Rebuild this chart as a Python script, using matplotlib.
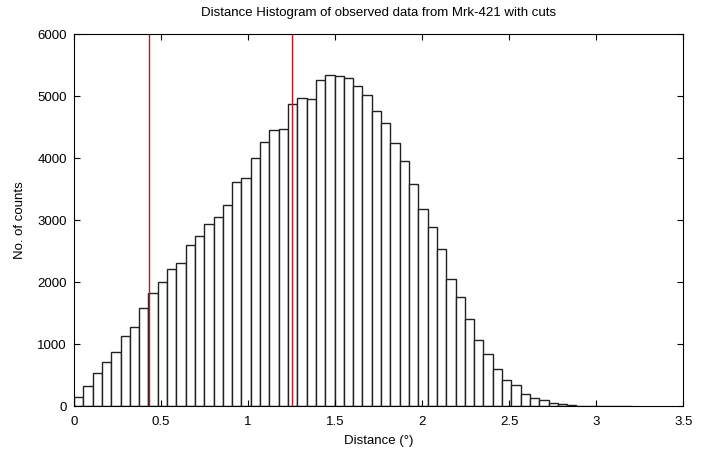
import matplotlib
matplotlib.use("Agg")
import matplotlib.pyplot as plt
import numpy as np

plt.rcParams['font.family'] = ['Liberation Sans', 'DejaVu Sans']

# Histogram counts (60 bins from 0 to ~3.207 deg)
bin_lo, bin_hi, n_bins = 0.0, 3.207, 60
counts = [145, 330, 540, 717, 868, 1133, 1283, 1586, 1834, 2006,
          2211, 2308, 2605, 2751, 2945, 3047, 3247, 3613, 3684, 4001,
          4266, 4449, 4476, 4865, 4972, 4946, 5258, 5344, 5328, 5290,
          5161, 5011, 4762, 4563, 4244, 3948, 3576, 3182, 2885, 2529,
          2050, 1759, 1413, 1073, 850, 594, 421, 345, 194, 135,
          103, 49, 43, 27, 12, 9, 7, 5, 4, 3]
cuts = [0.43, 1.25]
xticks = [0, 0.5, 1, 1.5, 2, 2.5, 3, 3.5]
xtick_labels = ["0", "0.5", "1", "1.5", "2", "2.5", "3", "3.5"]
yticks = [0, 1000, 2000, 3000, 4000, 5000, 6000]

edges = np.linspace(bin_lo, bin_hi, n_bins + 1)
widths = np.diff(edges)

fig = plt.figure(figsize=(7.06, 4.51), dpi=100)
ax = fig.add_axes([0.1048, 0.0991, 0.8631, 0.8255])

ax.bar(edges[:-1], counts, width=widths, align="edge",
       facecolor="white", edgecolor="#222222", linewidth=1.0)
for c in cuts:
    ax.axvline(c, color="#cc1122", linewidth=1.0)

ax.set_xlim(0, 3.5)
ax.set_ylim(0, 6000)
ax.set_xticks(xticks)
ax.set_xticklabels(xtick_labels)
ax.set_yticks(yticks)
ax.tick_params(direction="in", top=True, right=True, length=4,
               labelsize=9.5, width=0.8)
ax.tick_params(axis="x", pad=7)
ax.tick_params(axis="y", pad=5)
for s in ax.spines.values():
    s.set_linewidth(0.8)

ax.set_title("Distance Histogram of observed data from Mrk-421 with cuts",
             fontsize=9.5, pad=13)
ax.set_xlabel("Distance (°)", fontsize=9.5, labelpad=5)
ax.set_ylabel("No. of counts", fontsize=9.5, labelpad=8)

fig.savefig("out.png", dpi=100)
